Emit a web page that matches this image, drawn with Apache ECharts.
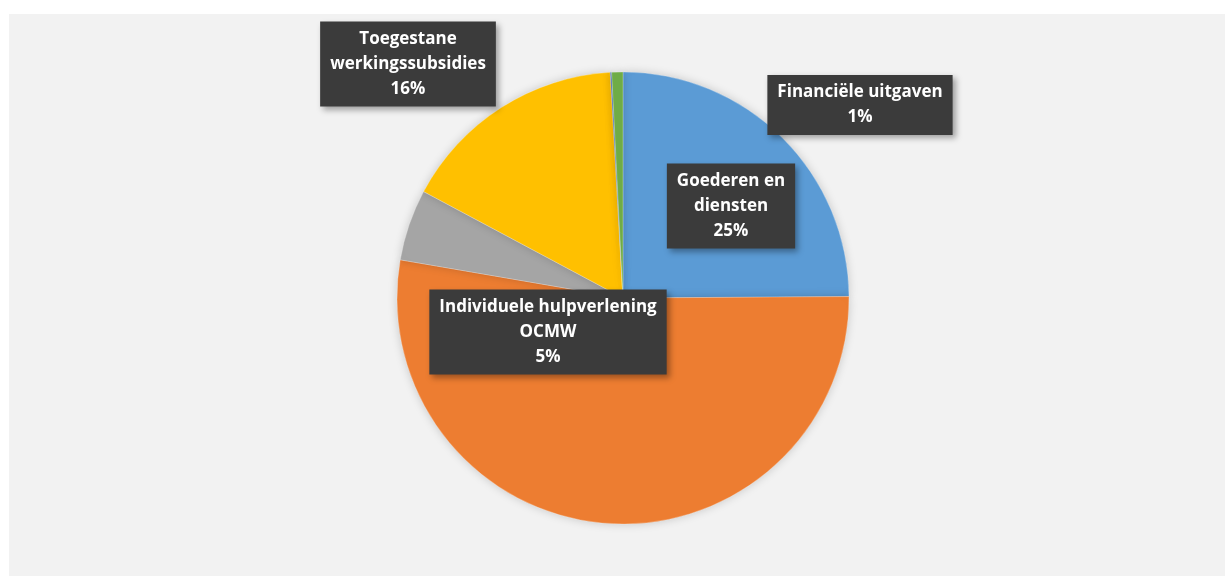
<!DOCTYPE html>
<html>
<head>
<meta charset="utf-8">
<script src="https://cdn.jsdelivr.net/npm/echarts@6/dist/echarts.min.js"></script>
<style>
  html, body { margin: 0; padding: 0; background: #ffffff; }
  #chart {
    position: absolute;
    left: 9px;
    top: 14px;
    width: 1216px;
    height: 562px;
    background-color: #f2f2f2;
  }
</style>
</head>
<body>
<div id="chart"></div>
<script>
// slices, clockwise from 12 o'clock
const categories = [
  'Goederen en diensten',
  'Personeel',
  'Individuele hulpverlening OCMW',
  'Toegestane werkingssubsidies',
  'Overige',
  'Financiële uitgaven'
]
const values = [24.9, 52.8, 5.1, 16.3, 0.1, 0.8]
const colors = ['#5b9bd5', '#ed7d31', '#a5a5a5', '#ffc000', '#4472c4', '#70ad47']
// label text as shown in the boxes ('' = no label)
const labelTexts = [
  'Goederen en\ndiensten\n25%',
  '',
  'Individuele hulpverlening\nOCMW\n5%',
  'Toegestane\nwerkingssubsidies\n16%',
  '',
  'Financiële uitgaven\n1%'
]
// label box centres (chart pixels)
const labelSpots = [
  [722, 192],
  null,
  [539, 318],
  [399, 50],
  null,
  [851, 91]
]

let myChart = echarts.init(document.getElementById('chart'))

let seriesData = []
for (let i = 0; i < categories.length; i++) {
  seriesData.push({
    name: categories[i],
    value: values[i],
    itemStyle: { color: colors[i] },
    label: { show: labelTexts[i] !== '', formatter: labelTexts[i] }
  })
}

let option = {
  animation: false,
  series: [
    {
      type: 'pie',
      center: [614, 284],
      radius: 226,
      startAngle: 90,
      clockwise: true,
      itemStyle: {
        borderColor: 'rgba(255,255,255,0.5)',
        borderWidth: 0.5,
        shadowBlur: 10,
        shadowColor: 'rgba(0,0,0,0.18)'
      },
      label: {
        position: 'inside',
        color: '#ffffff',
        fontFamily: '"Open Sans", sans-serif',
        fontWeight: 'bold',
        fontSize: 17,
        lineHeight: 25,
        align: 'center',
        backgroundColor: '#3b3b3b',
        padding: [6, 10, 4, 10],
        shadowBlur: 6,
        shadowColor: 'rgba(0,0,0,0.35)',
        shadowOffsetX: 3,
        shadowOffsetY: 3
      },
      labelLine: { show: false },
      emphasis: { disabled: true },
      labelLayout: function (params) {
        let spot = labelSpots[params.dataIndex]
        if (!spot) return {}
        return { x: spot[0], y: spot[1], align: 'center', verticalAlign: 'middle' }
      },
      data: seriesData
    }
  ]
}
myChart.setOption(option)
</script>
</body>
</html>
